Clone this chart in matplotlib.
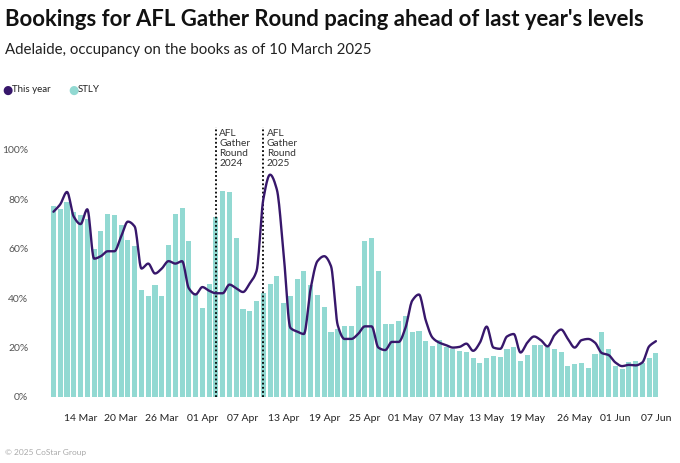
import numpy as np
import pandas as pd
import matplotlib
matplotlib.use('Agg')
import matplotlib.pyplot as plt

# daily occupancy on the books, starting 10 Mar 2025
start_date = '2025-03-10'
this_year = [75, 78, 83, 73, 70, 76, 56, 57, 59, 59,
             65, 71, 69, 52, 54, 50, 52, 55, 54, 55,
             44, 41.5, 44.5, 43, 42, 42, 45.5, 44, 42.5, 46,
             51, 80, 90, 84, 58, 28, 26.5, 25.5, 44, 55,
             57, 53, 29, 23.5, 23.5, 25.5, 28.6, 28.6, 20, 19,
             22.3, 22.3, 28, 39, 41.5, 31, 24, 22, 21, 20,
             20.3, 21.6, 18.7, 22, 28.5, 20, 19.5, 24.5, 25.5, 18,
             22, 24.5, 23, 20.5, 25, 27.3, 23.5, 20, 23, 23.5,
             22, 17.8, 17, 14, 12.5, 13, 12.8, 14, 20.5, 22.6]
stly = [77.5, 76, 79, 75, 73.6, 72, 60, 67, 74, 73.5,
        69.5, 63.6, 61.2, 43.5, 41, 45.2, 41, 61.7, 74, 76.5,
        63.3, 42, 36, 45.8, 72.7, 83.5, 82.8, 64.4, 35.5, 35,
        38.7, 42, 45.6, 48.8, 38, 41, 47.8, 51, 45.4, 41.1,
        36.4, 26.3, 27.7, 28.6, 28.6, 44.8, 63.3, 64.4, 51.2, 29.7,
        29.4, 30.6, 32.8, 26.5, 26.6, 22.6, 20.7, 23.2, 20.1, 19.4,
        18.8, 18.3, 15.6, 13.8, 15.9, 16.5, 16.1, 19.4, 20.3, 14.6,
        17.2, 21, 21.2, 20.3, 19.4, 18.2, 12.5, 13.2, 13.8, 11.8,
        17.5, 26.3, 19.4, 12.5, 11.3, 14.2, 14.5, 13.8, 15.6, 18]
tick_dates = ['2025-03-14', '2025-03-20', '2025-03-26', '2025-04-01', '2025-04-07',
              '2025-04-13', '2025-04-19', '2025-04-25', '2025-05-01', '2025-05-07',
              '2025-05-13', '2025-05-19', '2025-05-26', '2025-06-01', '2025-06-07']
event_dates = ['2025-04-03', '2025-04-10']
event_labels = ['AFL\nGather\nRound\n2024', 'AFL\nGather\nRound\n2025']

BAR_C = '#92d9d2'
LINE_C = '#37176b'
TXT = '#222222'
GREY = '#555555'

plt.rcParams['font.family'] = ['Lato', 'DejaVu Sans']

dates = pd.date_range(start_date, periods=len(stly), freq='D')
x = np.arange(len(dates))


def day_index(d):
    return (pd.Timestamp(d) - dates[0]).days


def monotone_curve(xs, ys, n=12):
    # Fritsch-Carlson monotone cubic, for drawing only
    xs = np.asarray(xs, float)
    ys = np.asarray(ys, float)
    h = np.diff(xs)
    d = np.diff(ys) / h
    m = np.zeros_like(ys)
    m[0], m[-1] = d[0], d[-1]
    for k in range(1, len(ys) - 1):
        if d[k - 1] * d[k] > 0:
            w1 = 2 * h[k] + h[k - 1]
            w2 = h[k] + 2 * h[k - 1]
            m[k] = (w1 + w2) / (w1 / d[k - 1] + w2 / d[k])
    px, py = [], []
    for k in range(len(xs) - 1):
        t = np.linspace(0, 1, n, endpoint=False)
        h00 = 2 * t**3 - 3 * t**2 + 1
        h10 = t**3 - 2 * t**2 + t
        h01 = -2 * t**3 + 3 * t**2
        h11 = t**3 - t**2
        px.append(xs[k] + t * h[k])
        py.append(h00 * ys[k] + h10 * h[k] * m[k] + h01 * ys[k + 1] + h11 * h[k] * m[k + 1])
    px.append([xs[-1]])
    py.append([ys[-1]])
    return np.concatenate(px), np.concatenate(py)


fig = plt.figure(figsize=(6.8, 4.63), dpi=100)
ax = fig.add_axes([45 / 680, 66 / 463, 617 / 680, 270 / 463])

ax.bar(x, stly, width=0.75, color=BAR_C, zorder=1)
cx, cy = monotone_curve(x, this_year)
ax.plot(cx, cy, color=LINE_C, lw=1.7, solid_capstyle='round', zorder=3)

for d, lab in zip(event_dates, event_labels):
    i = day_index(d)
    ax.axvline(i, color='black', ls=(0, (1, 1.3)), lw=1.3, zorder=2)
    ax.text(i + 0.5, 108.5, lab, fontsize=7.3, color='#333333', va='top', ha='left',
            linespacing=1.15)

ax.set_xlim(-1.25, 89.9)
ax.set_ylim(0, 109.3)
ax.set_yticks([0, 20, 40, 60, 80, 100])
ax.set_yticklabels([f'{v}%' for v in [0, 20, 40, 60, 80, 100]])
ax.set_xticks([day_index(d) for d in tick_dates])
ax.set_xticklabels([pd.Timestamp(d).strftime('%d %b') for d in tick_dates])
ax.tick_params(axis='both', length=0, labelsize=7.5, colors=TXT)
ax.tick_params(axis='y', pad=12, labelcolor=GREY)
ax.tick_params(axis='x', pad=12)
for s in ax.spines.values():
    s.set_visible(False)

fig.text(5 / 680, 1 - 20 / 463, "Bookings for AFL Gather Round pacing ahead of last year's levels",
         fontsize=15.9, fontweight='bold', color='#111111', va='center', ha='left')
fig.text(5 / 680, 1 - 50 / 463, 'Adelaide, occupancy on the books as of 10 March 2025',
         fontsize=10.8, color=TXT, va='center', ha='left')

# legend
fig.text(7 / 680, 1 - 90 / 463, '\u25CF', color=LINE_C, fontsize=8.5, va='center', ha='center',
         family='DejaVu Sans')
fig.text(12 / 680, 1 - 90 / 463, 'This year', color=TXT, fontsize=7, va='center', ha='left')
fig.text(73 / 680, 1 - 90 / 463, '\u25CF', color=BAR_C, fontsize=8.5, va='center', ha='center',
         family='DejaVu Sans')
fig.text(78 / 680, 1 - 90 / 463, 'STLY', color=TXT, fontsize=7, va='center', ha='left')

fig.text(5 / 680, 1 - 452 / 463, '\u00A9 2025 CoStar Group', color='#aaaaaa', fontsize=6,
         va='center', ha='left')

fig.savefig('out.png', dpi=100)
